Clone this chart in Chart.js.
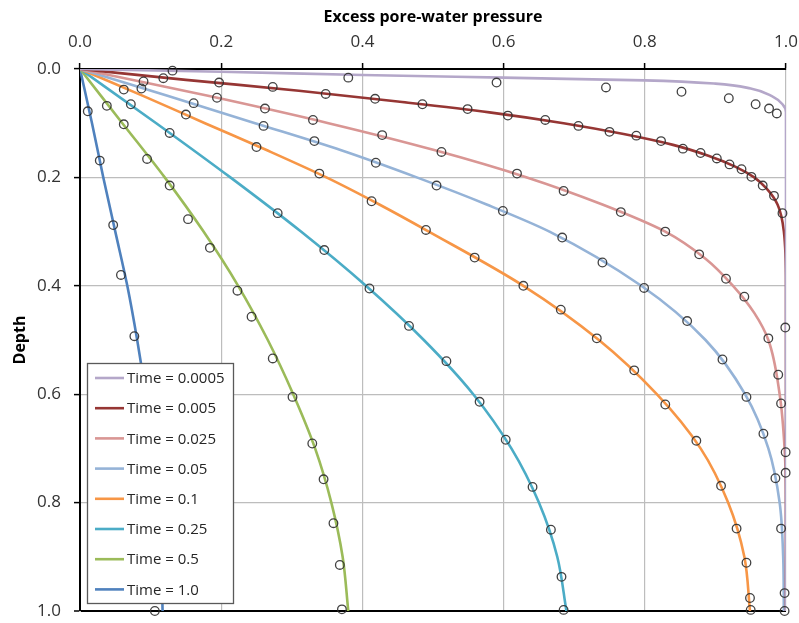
<!DOCTYPE html>
<html>
<head>
<meta charset="utf-8">
<script src="https://cdn.jsdelivr.net/npm/chart.js@4.4.1/dist/chart.umd.min.js"></script>
<style>
  html, body { margin: 0; padding: 0; background: #fff; }
  #wrap { width: 799px; height: 623px; }
</style>
</head>
<body>
<div id="wrap"><canvas id="chart" width="799" height="623"></canvas></div>
<script>
// axis ticks
const pressureTicks = [0, 0.2, 0.4, 0.6, 0.8, 1.0];
const depthTicks = [0, 0.2, 0.4, 0.6, 0.8, 1.0];

const timeLabels = ['Time = 0.0005', 'Time = 0.005', 'Time = 0.025', 'Time = 0.05',
                    'Time = 0.1', 'Time = 0.25', 'Time = 0.5', 'Time = 1.0'];
const timeColors = ['#b4a7c9', '#963634', '#d99694', '#95b3d7',
                    '#f79646', '#4bacc6', '#9bbb59', '#4f81bd'];

// solution curves  [pressure, depth]
const curve0005 = [[0,0],[0.2,0.005],[0.4,0.011],[0.6,0.016],[0.8,0.021],[0.9,0.027],[0.95,0.036],
                   [0.98,0.05],[0.995,0.065],[1.0,0.08],[1.0,0.2],[1.0,1.0]];
const curve005 = [[0,0],[0.15,0.02],[0.31,0.04],[0.45,0.06],[0.58,0.08],[0.685,0.1],[0.77,0.12],
                  [0.84,0.14],[0.89,0.16],[0.928,0.18],[0.955,0.2],[0.972,0.22],[0.988,0.25],
                  [0.997,0.3],[1.0,0.4],[1.0,1.0]];
const curve025 = [[0,0],[0.183,0.05],[0.352,0.1],[0.503,0.15],[0.633,0.2],[0.74,0.25],[0.829,0.3],
                  [0.886,0.35],[0.925,0.4],[0.955,0.45],[0.975,0.5],[0.991,0.6],[0.998,0.7],
                  [1.0,0.8],[1.0,1.0]];
const curve05 = [[0,0],[0.125,0.05],[0.248,0.1],[0.37,0.15],[0.477,0.2],[0.576,0.25],[0.665,0.3],
                 [0.795,0.4],[0.886,0.5],[0.942,0.6],[0.975,0.7],[0.991,0.8],[0.996,0.9],[0.997,1.0]];
const curve1 = [[0,0],[0.09,0.05],[0.177,0.1],[0.265,0.15],[0.349,0.2],[0.424,0.25],[0.494,0.3],
                [0.628,0.4],[0.735,0.5],[0.817,0.6],[0.879,0.7],[0.918,0.8],[0.941,0.9],[0.949,1.0]];
const curve25 = [[0,0],[0.108,0.1],[0.213,0.2],[0.313,0.3],[0.405,0.4],[0.487,0.5],[0.557,0.6],
                 [0.611,0.7],[0.65,0.8],[0.676,0.9],[0.689,1.0]];
const curve50 = [[0,0],[0.06,0.1],[0.12,0.2],[0.175,0.3],[0.224,0.4],[0.266,0.5],[0.302,0.6],
                 [0.333,0.7],[0.356,0.8],[0.372,0.9],[0.38,1.0]];
const curve100 = [[0,0],[0.017,0.1],[0.033,0.2],[0.05,0.3],[0.067,0.4],[0.081,0.5],[0.093,0.6],
                  [0.103,0.7],[0.11,0.8],[0.115,0.9],[0.117,1.0]];

// measured points  [pressure, depth]
const obs0005 = [[0.131,0.003],[0.38,0.016],[0.59,0.025],[0.745,0.034],[0.852,0.042],[0.919,0.054],
                 [0.957,0.065],[0.976,0.073],[0.987,0.082]];
const obs005 = [[0.118,0.017],[0.197,0.025],[0.273,0.033],[0.348,0.046],[0.418,0.055],[0.485,0.065],
                [0.549,0.074],[0.606,0.086],[0.659,0.094],[0.706,0.105],[0.75,0.116],[0.788,0.123],
                [0.823,0.133],[0.854,0.147],[0.879,0.155],[0.902,0.165],[0.92,0.176],[0.937,0.185],
                [0.951,0.199],[0.967,0.215],[0.983,0.234],[0.995,0.266],[0.999,0.477],[0.9995,0.707],
                [0.998,0.967]];
const obs025 = [[0.09,0.023],[0.194,0.053],[0.262,0.073],[0.33,0.094],[0.428,0.122],[0.512,0.153],
                [0.619,0.193],[0.685,0.225],[0.766,0.264],[0.829,0.3],[0.877,0.342],[0.915,0.387],
                [0.941,0.42],[0.975,0.497],[0.989,0.564],[0.993,0.617],[0.9995,0.745]];
const obs05 = [[0.087,0.036],[0.161,0.063],[0.26,0.105],[0.332,0.133],[0.419,0.173],[0.505,0.215],
               [0.599,0.262],[0.683,0.311],[0.74,0.357],[0.799,0.404],[0.86,0.465],[0.91,0.536],
               [0.944,0.605],[0.968,0.673],[0.985,0.755],[0.993,0.848],[0.998,1.0]];
const obs1 = [[0.062,0.038],[0.15,0.084],[0.25,0.144],[0.339,0.193],[0.413,0.244],[0.49,0.297],
              [0.559,0.348],[0.628,0.4],[0.681,0.444],[0.732,0.497],[0.785,0.556],[0.829,0.619],
              [0.873,0.686],[0.908,0.769],[0.93,0.848],[0.944,0.911],[0.949,0.976],[0.95,0.998]];
const obs25 = [[0.072,0.065],[0.127,0.118],[0.28,0.266],[0.346,0.334],[0.41,0.405],[0.466,0.474],
               [0.519,0.539],[0.566,0.614],[0.603,0.684],[0.641,0.771],[0.667,0.85],[0.682,0.937],
               [0.685,0.998]];
const obs50 = [[0.038,0.068],[0.062,0.102],[0.095,0.166],[0.127,0.215],[0.153,0.277],[0.184,0.33],
               [0.223,0.409],[0.243,0.457],[0.273,0.534],[0.301,0.605],[0.329,0.691],[0.345,0.757],
               [0.359,0.838],[0.368,0.915],[0.371,0.997]];
const obs100 = [[0.011,0.078],[0.028,0.169],[0.047,0.288],[0.058,0.38],[0.077,0.493],[0.106,1.0]];

const curves = [curve0005, curve005, curve025, curve05, curve1, curve25, curve50, curve100];
const observed = [obs0005, obs005, obs025, obs05, obs1, obs25, obs50, obs100];

const FONT = '"Open Sans", "Noto Sans", sans-serif';
Chart.defaults.font.family = FONT;

const toXY = arr => arr.map(p => ({x: p[0], y: p[1]}));

const datasets = [];
observed.forEach((pts, i) => {
  datasets.push({
    type: 'scatter',
    label: 'obs ' + timeLabels[i],
    data: toXY(pts),
    order: 0,
    clip: false,
    showLine: false,
    pointRadius: 4.3,
    pointBorderWidth: 1.3,
    pointBorderColor: 'rgba(45,45,45,0.9)',
    pointBackgroundColor: 'rgba(0,0,0,0)'
  });
});
curves.forEach((pts, i) => {
  datasets.push({
    type: 'line',
    label: timeLabels[i],
    inLegend: true,
    data: toXY(pts),
    order: 1,
    indexAxis: 'y',
    borderColor: timeColors[i],
    borderWidth: 2.6,
    cubicInterpolationMode: 'monotone',
    pointRadius: 0,
    fill: false
  });
});

// legend box sitting in the lower left of the plot
const boxLegend = {
  id: 'boxLegend',
  afterDatasetsDraw(chart) {
    const {ctx, chartArea} = chart;
    const items = chart.data.datasets.filter(d => d.inLegend);
    const left = chartArea.left + 7;
    const bottom = chartArea.bottom - 8;
    const w = 146, h = 240;
    const top = bottom - h;
    ctx.save();
    ctx.fillStyle = '#fff';
    ctx.fillRect(left, top, w, h);
    ctx.strokeStyle = '#595959';
    ctx.lineWidth = 1.3;
    ctx.strokeRect(left + 0.5, top + 0.5, w, h);
    ctx.font = '15px ' + FONT;
    ctx.textBaseline = 'middle';
    items.forEach((d, i) => {
      const y = top + 15 + i * 30.2;
      ctx.strokeStyle = d.borderColor;
      ctx.lineWidth = 2.6;
      ctx.beginPath();
      ctx.moveTo(left + 8, y);
      ctx.lineTo(left + 37, y);
      ctx.stroke();
      ctx.fillStyle = '#262626';
      ctx.fillText(d.label, left + 40, y + 1);
    });
    ctx.restore();
  }
};

new Chart(document.getElementById('chart'), {
  type: 'line',
  data: { datasets },
  plugins: [boxLegend],
  options: {
    responsive: false,
    animation: false,
    events: [],
    layout: { padding: { left: 0, top: 0, right: 13, bottom: 12 } },
    plugins: { legend: { display: false }, tooltip: { enabled: false } },
    scales: {
      x: {
        type: 'linear',
        position: 'top',
        min: 0, max: 1,
        afterBuildTicks: s => { s.ticks = pressureTicks.map(v => ({value: v})); },
        afterFit: s => { s.height = 69; s.paddingLeft = 0; s.paddingRight = 0; },
        ticks: { callback: v => v.toFixed(1), font: { size: 17 }, color: '#333', padding: 11, maxRotation: 0 },
        grid: { color: '#bdbdbd', lineWidth: 1.2, tickColor: '#000', tickLength: 6, tickWidth: 1.5 },
        border: { color: '#000', width: 2 },
        title: { display: true, text: 'Excess pore-water pressure', color: '#000',
                 font: { size: 16, weight: 'bold' }, padding: { top: 8, bottom: 0 } }
      },
      y: {
        type: 'linear',
        reverse: true,
        min: 0, max: 1,
        afterBuildTicks: s => { s.ticks = depthTicks.map(v => ({value: v})); },
        afterFit: s => { s.width = 80; s.paddingTop = 0; s.paddingBottom = 0; },
        ticks: { callback: v => v.toFixed(1), font: { size: 17 }, color: '#333', padding: 13 },
        grid: {
          color: c => (c.tick && c.tick.value === 1) ? '#000' : '#bdbdbd',
          lineWidth: c => (c.tick && c.tick.value === 1) ? 2 : 1.2,
          tickColor: '#000', tickLength: 6, tickWidth: 1.5
        },
        border: { color: '#000', width: 2 },
        title: { display: true, text: 'Depth', color: '#000',
                 font: { size: 16, weight: 'bold' }, padding: { top: 11, bottom: 0 } }
      }
    }
  }
});
</script>
</body>
</html>
